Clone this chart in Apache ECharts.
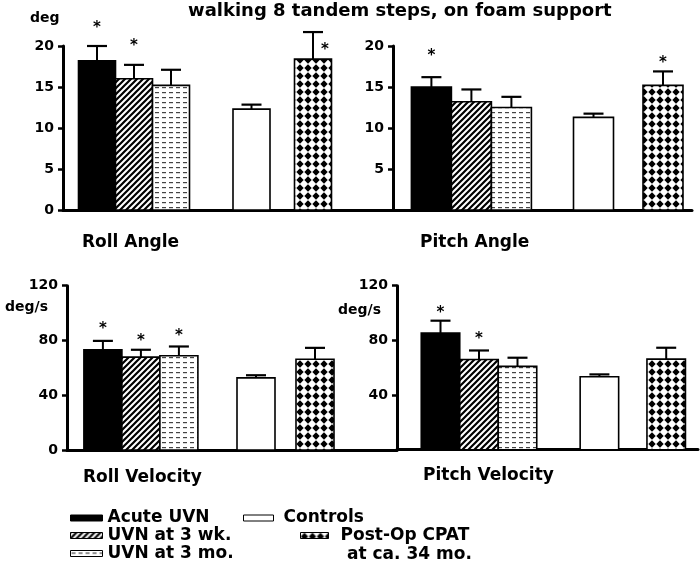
<!DOCTYPE html>
<html><head><meta charset="utf-8">
<script src="https://cdn.jsdelivr.net/npm/echarts@6/dist/echarts.min.js"></script>
<style>html,body{margin:0;padding:0;background:#fff}#c{width:700px;height:585px}</style>
</head><body><div id="c"></div>
<script>
// ---------- data ----------
const groups = ['Acute UVN', 'UVN at 3 wk.', 'UVN at 3 mo.', 'Controls', 'Post-Op CPAT'];
const panelNames = ['Roll Angle', 'Pitch Angle', 'Roll Velocity', 'Pitch Velocity'];
const titleText = 'walking 8 tandem steps, on foam support';
const cpatSecondLine = 'at ca. 34 mo.';

const rollAngle      = [18.2, 16.0, 15.2, 12.3, 18.4];
const rollAngleErr   = [1.8, 1.7, 1.9, 0.55, 3.3];
const rollAngleStar  = [22.6, 20.4, null, null, 19.9];

const pitchAngle     = [15.0, 13.2, 12.5, 11.3, 15.2];
const pitchAngleErr  = [1.2, 1.5, 1.3, 0.45, 1.7];
const pitchAngleStar = [19.1, null, null, null, 18.3];

const rollVel        = [73.2, 67.8, 68.8, 52.7, 66.3];
const rollVelErr     = [6.5, 5.4, 6.8, 1.9, 8.3];
const rollVelStar    = [90.7, 81.9, 85.6, null, null];

const pitchVel       = [85.4, 66.0, 61.0, 53.4, 66.3];
const pitchVelErr    = [9.0, 6.6, 6.3, 1.7, 8.3];
const pitchVelStar   = [102.4, 83.4, null, null, null];

const angleTicks    = [0, 5, 10, 15, 20];
const velocityTicks = [0, 40, 80, 120];
const angleUnit = 'deg';
const velocityUnit = 'deg/s';

// ---------- patterns ----------
function mk(w, h, draw) {
  const c = document.createElement('canvas');
  c.width = w; c.height = h;
  const g = c.getContext('2d');
  g.fillStyle = '#fff'; g.fillRect(0, 0, w, h);
  draw(g);
  return c;
}
const hatchC = mk(6, 6, g => {
  g.strokeStyle = '#000'; g.lineWidth = 2.2; g.beginPath();
  g.moveTo(-1, 7); g.lineTo(7, -1);
  g.moveTo(-1, 1); g.lineTo(1, -1);
  g.moveTo(5, 7); g.lineTo(7, 5);
  g.stroke();
});
const dashC = mk(7, 5, g => {
  g.fillStyle = '#444'; g.fillRect(1, 2, 4, 1.2);
});
const diamondC = mk(8, 8, g => {
  g.fillStyle = '#000'; g.beginPath();
  g.moveTo(4, 0.3); g.lineTo(7.7, 4); g.lineTo(4, 7.7); g.lineTo(0.3, 4); g.closePath(); g.fill();
});
const fills = [
  '#000',
  { image: hatchC, repeat: 'repeat' },
  { image: dashC, repeat: 'repeat' },
  '#fff',
  { image: diamondC, repeat: 'repeat' }
];

// ---------- layout ----------
const FONT = 'DejaVu Sans';
const panels = [
  { vals: rollAngle, errs: rollAngleErr, stars: rollAngleStar, ticks: angleTicks, unit: angleUnit,
    left: 63, top: 46, width: 330, height: 164, slots: [34, 71, 108, 188.5, 250], barW: 37,
    showZero: true, unitPos: [30, 18], labelPos: [82, 243] },
  { vals: pitchAngle, errs: pitchAngleErr, stars: pitchAngleStar, ticks: angleTicks, unit: null,
    left: 393, top: 46, width: 299, height: 164, slots: [38.4, 78.4, 118.4, 200.5, 270], barW: 40,
    showZero: false, unitPos: null, labelPos: [420, 243] },
  { vals: rollVel, errs: rollVelErr, stars: rollVelStar, ticks: velocityTicks, unit: velocityUnit,
    left: 67, top: 285.7, width: 330, height: 164.3, slots: [35.9, 73.9, 111.9, 189, 248], barW: 38,
    showZero: true, unitPos: [5, 307], labelPos: [83, 478] },
  { vals: pitchVel, errs: pitchVelErr, stars: pitchVelStar, ticks: velocityTicks, unit: velocityUnit,
    left: 397, top: 285.7, width: 301, height: 164, slots: [43.5, 82, 120.5, 202.4, 269.2], barW: 38.5,
    showZero: false, unitPos: [338, 310], labelPos: [423, 476] }
];

const grid = [], xAxis = [], yAxis = [], series = [], graphic = [];
panels.forEach((p, pi) => {
  grid.push({ left: p.left, top: p.top, width: p.width, height: p.height });
  xAxis.push({ type: 'value', gridIndex: pi, min: 0, max: p.width, show: true,
    axisLine: { show: true, lineStyle: { color: '#000', width: 3 } },
    axisTick: { show: false }, axisLabel: { show: false }, splitLine: { show: false } });
  const t = p.ticks;
  yAxis.push({ type: 'value', gridIndex: pi, min: t[0], max: t[t.length - 1], interval: t[1] - t[0],
    axisLine: { show: true, onZero: false, lineStyle: { color: '#000', width: 3 } },
    axisTick: { show: true, length: 5, lineStyle: { color: '#000', width: 2.5 } },
    axisLabel: { show: true, margin: 9, color: '#000', fontFamily: FONT, fontWeight: 'bold', fontSize: 14,
      showMinLabel: p.showZero },
    splitLine: { show: false } });
  groups.forEach((gname, gi) => {
    const barW = p.barW, fill = fills[gi];
    series.push({
      type: 'custom', name: gname, xAxisIndex: pi, yAxisIndex: pi, clip: false,
      itemStyle: { color: fill, borderColor: '#000', borderWidth: 1.5 },
      data: [[p.slots[gi], p.vals[gi], p.errs[gi], p.stars[gi] == null ? '-' : p.stars[gi]]],
      renderItem: function (params, api) {
        const x = api.value(0), v = api.value(1), e = api.value(2), s = api.value(3);
        const p0 = api.coord([x, 0]), p1 = api.coord([x, v]), p2 = api.coord([x, v + e]);
        const children = [
          { type: 'rect', shape: { x: p0[0] - barW / 2, y: p1[1], width: barW, height: p0[1] - p1[1] },
            style: { fill: fill, stroke: '#000', lineWidth: 1.6 } },
          { type: 'line', shape: { x1: p0[0], y1: p1[1], x2: p0[0], y2: p2[1] },
            style: { stroke: '#000', lineWidth: 2 } },
          { type: 'line', shape: { x1: p0[0] - 10, y1: p2[1], x2: p0[0] + 10, y2: p2[1] },
            style: { stroke: '#000', lineWidth: 2.2 } }
        ];
        if (!isNaN(s)) {
          const ps = api.coord([x, s]);
          const beside = s < v + e;
          children.push({ type: 'text', x: beside ? p0[0] + 12 : p0[0], y: ps[1] + 3,
            style: { text: '*', fill: '#000', font: 'bold 15px "' + FONT + '"', align: 'center', verticalAlign: 'middle' } });
        }
        return { type: 'group', children: children };
      }
    });
  });
  if (p.unit) {
    graphic.push({ type: 'text', x: p.unitPos[0], y: p.unitPos[1],
      style: { text: p.unit, fill: '#000', font: 'bold 14px "' + FONT + '"', verticalAlign: 'middle' } });
  }
  graphic.push({ type: 'text', x: p.labelPos[0], y: p.labelPos[1],
    style: { text: panelNames[pi], fill: '#000', font: 'bold 17px "' + FONT + '"', verticalAlign: 'middle' } });
});
graphic.push({ type: 'text', x: 347, y: 555,
  style: { text: cpatSecondLine, fill: '#000', font: 'bold 17px "' + FONT + '"', verticalAlign: 'middle' } });

const legText = { color: '#000', fontFamily: FONT, fontWeight: 'bold', fontSize: 17 };
function leg(gi, left, top, w, padL) {
  return {
    data: [{ name: groups[gi], itemStyle: { color: fills[gi], borderColor: '#000', borderWidth: 1 } }],
    left: left, top: top, orient: 'horizontal', icon: 'rect', itemWidth: w, itemHeight: 6,
    padding: 0, selectedMode: false,
    textStyle: Object.assign({}, legText, { padding: [0, 0, 0, padL] })
  };
}

const chart = echarts.init(document.getElementById('c'), null, { renderer: 'canvas' });
chart.setOption({
  animation: false,
  backgroundColor: '#fff',
  title: { text: titleText, left: 188, top: 2, padding: 0,
    textStyle: { color: '#000', fontFamily: FONT, fontWeight: 'bold', fontSize: 18 } },
  legend: [
    leg(0, 70, 509.5, 32, 0),
    leg(1, 70, 527, 32, 0),
    leg(2, 70, 545, 32, 0),
    leg(3, 243, 509.5, 30, 5),
    leg(4, 300, 527, 28, 7)
  ],
  grid: grid, xAxis: xAxis, yAxis: yAxis, series: series, graphic: graphic
});
</script></body></html>
